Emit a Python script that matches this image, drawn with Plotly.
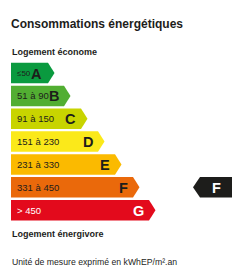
import plotly.graph_objects as go

# Data
classes = ["A", "B", "C", "D", "E", "F", "G"]
ranges = ["≤50", "51 à 90", "91 à 150", "151 à 230", "231 à 330", "331 à 450", "> 450"]
colors = ["#0a9a3f", "#52ae32", "#c8d400", "#fbe91a", "#fbba00", "#ea690b", "#e30a1c"]
text_colors = ["#1d1d1b"] * 6 + ["#ffffff"]
bar_ends = [48, 64, 81, 98, 115, 133, 149]
current_class = "F"

title = "Consommations énergétiques"
top_label = "Logement économe"
bottom_label = "Logement énergivore"
unit_label = "Unité de mesure exprimé en kWhEP/m².an"

W, H = 243, 273
x0 = 11
y_top = 62.8
step = 22.85
bh = 20.5
tip = 6.5

fig = go.Figure()
annotations = []
for i, (c, r, col, tc, xe) in enumerate(zip(classes, ranges, colors, text_colors, bar_ends)):
    yt = y_top + i * step
    yb = yt + bh
    ym = (yt + yb) / 2
    fig.add_trace(go.Scatter(
        x=[x0, xe, xe + tip, xe, x0, x0],
        y=[yt, yt, ym, yb, yb, yt],
        fill="toself", fillcolor=col, mode="lines", line=dict(width=0),
        hoverinfo="skip", showlegend=False))
    annotations.append(dict(x=x0 + 4, y=ym, text=r, showarrow=False, xanchor="left",
                            yanchor="middle", font=dict(family="Liberation Sans", size=8 if i == 0 else 9.5, color=tc)))
    annotations.append(dict(x=xe - 3 if i else xe - 4.5, y=ym + 0.5, text="<b>%s</b>" % c, showarrow=False, xanchor="right",
                            yanchor="middle", font=dict(family="Liberation Sans", size=14.5, color=tc)))

# indicator arrow
ci = classes.index(current_class)
yt = y_top + ci * step
yb = yt + bh
ym = (yt + yb) / 2
ix_tip, ix_body, ix_end = 193, 200, 232
fig.add_trace(go.Scatter(
    x=[ix_tip, ix_body, ix_end, ix_end, ix_body, ix_tip],
    y=[ym, yt, yt, yb, yb, ym],
    fill="toself", fillcolor="#1d1d1b", mode="lines", line=dict(width=0),
    hoverinfo="skip", showlegend=False))
annotations.append(dict(x=(ix_body + ix_end) / 2, y=ym + 0.5, text="<b>%s</b>" % current_class, showarrow=False,
                        xanchor="center", yanchor="middle", font=dict(family="Liberation Sans", size=14.5, color="#ffffff")))

annotations.append(dict(x=8.5, y=24, text="<b>%s</b>" % title, showarrow=False, xanchor="left", yanchor="middle",
                        font=dict(family="Liberation Sans", size=12, color="#1d1d1b")))
annotations.append(dict(x=10, y=52, text="<b>%s</b>" % top_label, showarrow=False, xanchor="left", yanchor="middle",
                        font=dict(family="Liberation Sans", size=9, color="#1d1d1b")))
annotations.append(dict(x=10, y=233.5, text="<b>%s</b>" % bottom_label, showarrow=False, xanchor="left", yanchor="middle",
                        font=dict(family="Liberation Sans", size=9, color="#1d1d1b")))
annotations.append(dict(x=10, y=262, text=unit_label, showarrow=False, xanchor="left", yanchor="middle",
                        font=dict(family="Liberation Sans", size=8.7, color="#1d1d1b")))

fig.update_layout(
    width=W, height=H, margin=dict(l=0, r=0, t=0, b=0),
    paper_bgcolor="white", plot_bgcolor="white",
    xaxis=dict(range=[0, W], visible=False, fixedrange=True),
    yaxis=dict(range=[H, 0], visible=False, fixedrange=True),
    annotations=annotations, showlegend=False,
)
fig.write_html("out.html", config={"displayModeBar": False})
